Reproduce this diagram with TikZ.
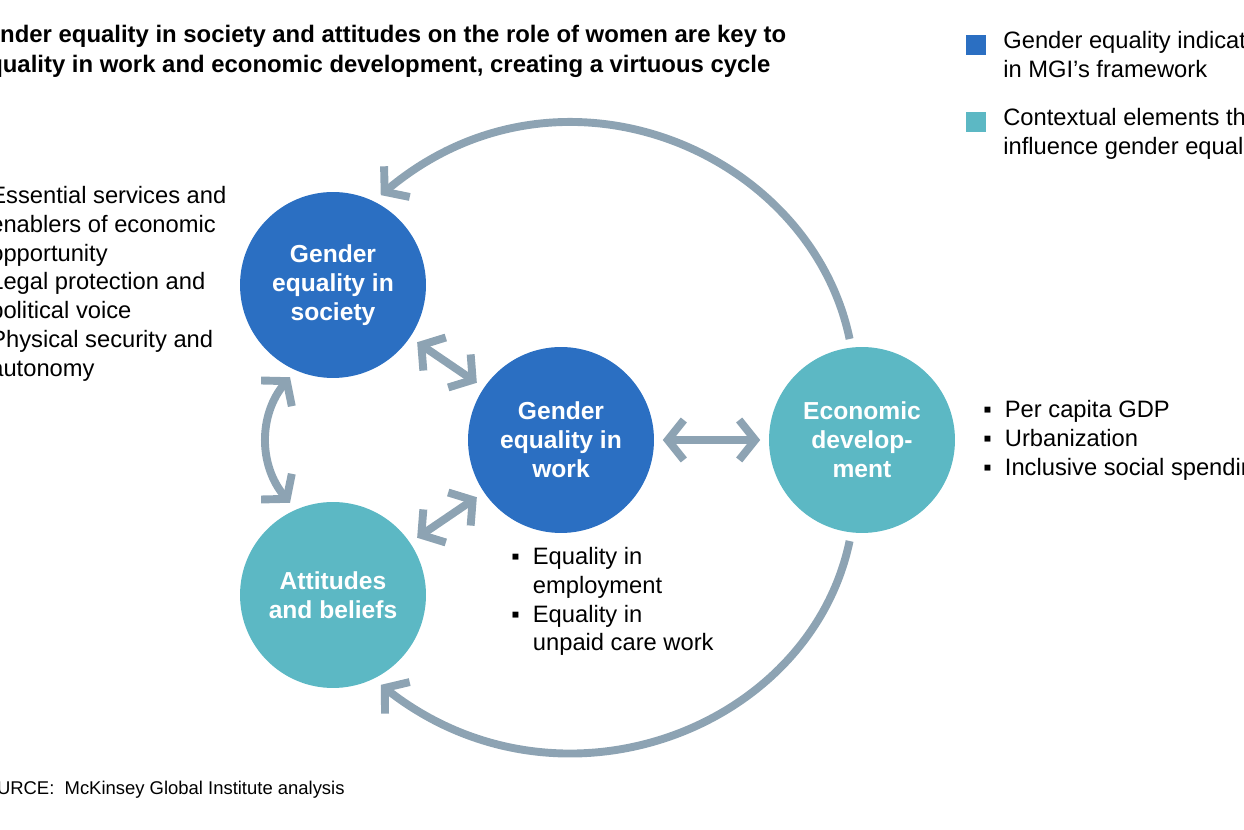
\documentclass[tikz,border=0pt]{standalone}
\usepackage{fontspec}
\setmainfont{Liberation Sans}
\usetikzlibrary{arrows.meta}
\definecolor{mgiblue}{HTML}{2B6FC2}
\definecolor{mgiteal}{HTML}{5CB8C4}
\definecolor{arrowgray}{HTML}{8DA3B3}
\tikzset{
  blob/.style = {circle, minimum size=3.72cm, inner sep=0pt, outer sep=5pt, text=white, align=center,
                 font=\fontsize{14}{16.5}\selectfont\bfseries},
  cycle/.style = {draw=arrowgray, line width=4.5pt, {Straight Barb[length=3.2mm,width=8mm]}-{Straight Barb[length=3.2mm,width=8mm]}},
  oneway/.style = {draw=arrowgray, line width=4.5pt, -{Straight Barb[length=3.2mm,width=8mm]}},
  body/.style = {anchor=north west, inner sep=0pt, align=left, font=\fontsize{13.5}{16.4}\selectfont},
}
\begin{document}
\begin{tikzpicture}[x=0.02cm, y=-0.02cm]
  \useasboundingbox (0,0) rectangle (1244,830);
  \clip (0,0) rectangle (1244,830);

  % title
  \node[anchor=base west, inner sep=0pt, font=\fontsize{13.6}{16}\selectfont\bfseries] (title1) at (-32,43) {Gender equality in society and attitudes on the role of women are key to};
  \node[anchor=base west, inner sep=0pt, font=\fontsize{13.6}{16}\selectfont\bfseries] (title2) at (-28,73) {Equality in work and economic development, creating a virtuous cycle};

  % legend
  \node[fill=mgiblue, minimum size=0.4cm, inner sep=0pt] (keyblue) at (976,45) {};
  \node[body] (keybluetext) at (1003,31) {Gender equality indicators\\in MGI’s framework};
  \node[fill=mgiteal, minimum size=0.4cm, inner sep=0pt] (keyteal) at (976,122) {};
  \node[body] (keytealtext) at (1003,108) {Contextual elements that\\influence gender equality};

  % circles
  \node[blob, fill=mgiblue] (society) at (333,285) {Gender\\equality in\\society};
  \node[blob, fill=mgiblue] (work) at (561,440) {Gender\\equality in\\work};
  \node[blob, fill=mgiteal] (economy) at (862,440) {Economic\\develop-\\ment};
  \node[blob, fill=mgiteal] (attitudes) at (333,595) {Attitudes\\and beliefs};

  % arrows
  \draw[cycle] (society) -- (work);
  \draw[cycle] (work) -- (economy);
  \draw[cycle] (attitudes) -- (work);
  \draw[cycle] (society.245) to[bend right=40] (attitudes.115);
  \draw[oneway] (economy.97) .. controls (810,150) and (560,45) .. (society.62);
  \draw[oneway] (economy.263) .. controls (810,730) and (560,825) .. (attitudes.-62);

  % lists
  \node[body] (societylist) at (-10,186) {Essential services and\\enablers of economic\\opportunity\\Legal protection and\\political voice\\Physical security and\\autonomy};
  \node[body] (economylist) at (983,400) {▪\ \ Per capita GDP\\▪\ \ Urbanization\\▪\ \ Inclusive social spending};
  \node[body] (worklist) at (511,547) {▪\ \ Equality in\\\phantom{▪\ \ }employment\\▪\ \ Equality in\\\phantom{▪\ \ }unpaid care work};

  % source
  \node[anchor=base west, inner sep=0pt, font=\fontsize{10.5}{12}\selectfont] (source) at (-30,794) {SOURCE:\ \ McKinsey Global Institute analysis};
\end{tikzpicture}
\end{document}
